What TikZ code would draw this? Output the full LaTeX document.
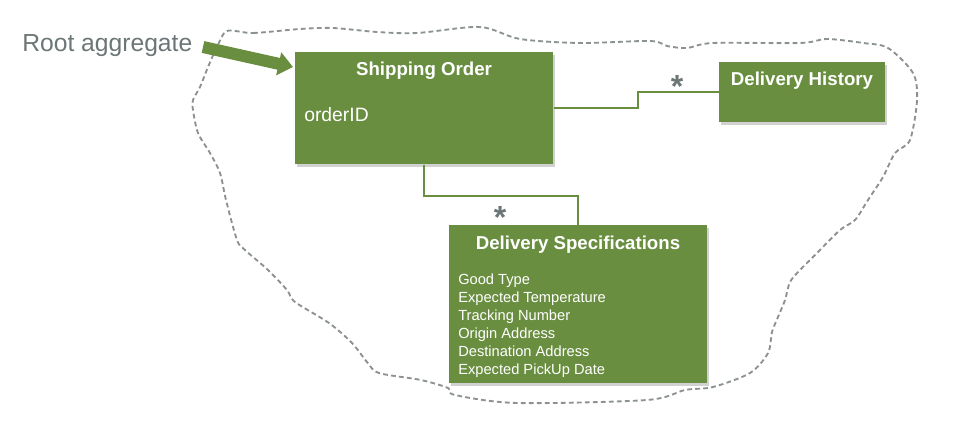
\documentclass[tikz,border=0pt]{standalone}
\usepackage{fontspec}
\setmainfont{Liberation Sans}
\usetikzlibrary{arrows.meta,shadows}

\definecolor{boxgreen}{RGB}{106,142,64}
\definecolor{labelgrey}{RGB}{108,118,118}
\definecolor{blobgrey}{RGB}{140,146,146}

\tikzset{
  entity/.style={draw=none, fill=boxgreen, anchor=north west, inner sep=0pt,
    drop shadow={shadow xshift=1.5pt, shadow yshift=-2pt, fill=black!60, opacity=.3}},
  title/.style={text=white, font=\bfseries\fontsize{14}{16}\selectfont, anchor=base, inner sep=0pt},
  field/.style={text=white, font=\fontsize{11}{13}\selectfont, anchor=base west, inner sep=0pt},
  link/.style={draw=boxgreen, line width=1.5pt},
  mult/.style={text=labelgrey, font=\bfseries\fontsize{24}{24}\selectfont, anchor=base, inner sep=0pt},
}

\begin{document}
\begin{tikzpicture}[x=0.75pt, y=-0.75pt]
\useasboundingbox (0,0) rectangle (962,442);

% aggregate boundary
\draw[blobgrey, line width=1.4pt, dash pattern=on 3.6pt off 2.4pt]
  plot[smooth cycle, tension=0.5] coordinates {
  (227,31) (253,33) (300,29) (333,28) (377,32) (417,33) (480,27) (520,39)
  (580,43) (650,41) (667,46) (687,48) (713,43) (800,43) (827,39) (863,43)
  (888,48) (913,73) (917,100) (910,140) (895,153) (883,177) (868,200)
  (855,220) (840,230) (815,255) (800,270) (790,282) (785,300) (778,317)
  (772,332) (768,353) (750,373) (713,387) (685,390) (647,400) (517,403)
  (455,395) (448,388) (421,380) (379,373) (367,362) (352,343) (329,323)
  (295,302) (287,290) (268,270) (245,250) (237,240) (226,200) (220,173)
  (210,153) (198,133) (193,110) (193,100) (200,87) (208,67) (217,47)};

% entities
\node[entity, minimum width=193.5pt, minimum height=84pt] (order) at (295,52) {};
\node[entity, minimum width=124.5pt, minimum height=45pt] (history) at (719,62) {};
\node[entity, minimum width=193.5pt, minimum height=118.5pt] (spec) at (449,225) {};

\node[title] (ordertitle) at (424,76) {Shipping Order};
\node[field, font=\fontsize{14.5}{16}\selectfont] (orderid) at (304,122) {orderID};
\node[title] (historytitle) at (802,86) {Delivery History};
\node[title] (spectitle) at (578,249) {Delivery Specifications};
\foreach \f [count=\i] in {Good Type, Expected Temperature, Tracking Number,
    Origin Address, Destination Address, Expected PickUp Date}
  \node[field] (spec\i) at (458,266+18*\i) {\f};

% associations
\draw[link] (order.east) -- ++(84,0) |- (history.west);
\draw[link] (order.south) -- ++(0,31) -| (spec.north);
\node[mult] (histmult) at (677,98) {*};
\node[mult] (specmult) at (500,228) {*};

% root label
\node[text=labelgrey, font=\fontsize{18.5}{20}\selectfont, anchor=base west, inner sep=0pt]
  (root) at (22,52) {Root aggregate};
\coordinate (tail) at (203,47);
\coordinate (tip) at (293,67);
\draw[boxgreen, line width=9pt, -{Triangle[width=17pt, length=11pt]}] (tail) -- (tip);
\end{tikzpicture}
\end{document}
